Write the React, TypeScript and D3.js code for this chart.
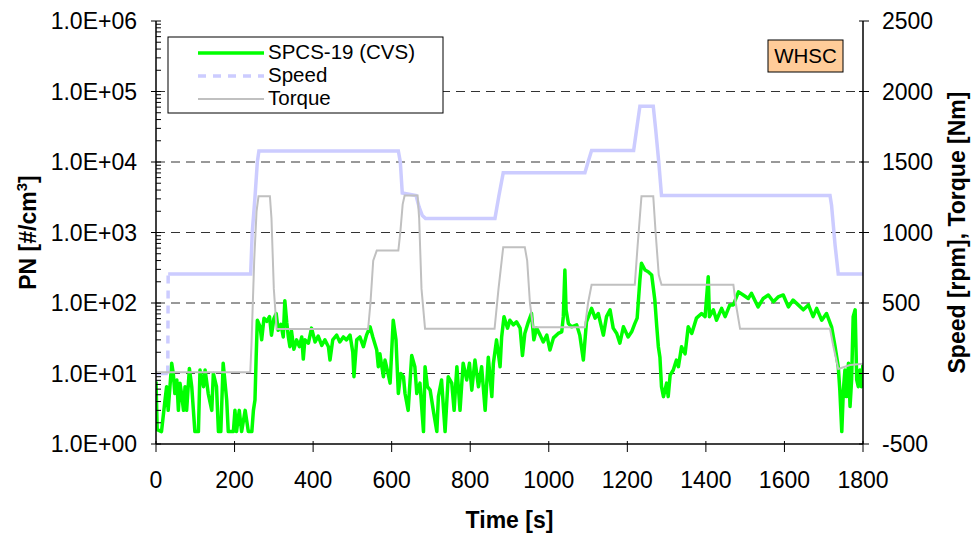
import React from 'react';
import * as d3 from 'd3';

// Particle number (primary, log axis)
const pnTime = [0,3,14,23,27,31,40,44,48,53,57,61,65,70,74,78,85,91,99,108,112,121,125,133,142,146,154,159,165,171,180,184,188,197,201,205,212,218,227,235,244,248,252,255,258,265,269,275,282,289,294,300,306,311,318,324,328,333,337,341,345,351,358,365,371,375,379,388,396,405,413,422,430,439,443,450,460,468,477,485,494,501,504,511,519,528,536,545,552,562,566,570,579,583,589,596,604,611,617,623,630,634,642,651,659,664,672,681,685,691,698,706,715,719,727,736,744,753,759,766,774,782,791,798,804,812,821,829,838,846,855,859,867,876,880,886,895,901,910,918,927,933,939,948,956,962,969,978,986,995,1003,1012,1024,1033,1037,1041,1044,1050,1058,1071,1079,1088,1096,1109,1118,1126,1139,1147,1156,1164,1173,1181,1190,1202,1211,1219,1225,1232,1236,1245,1253,1262,1270,1275,1279,1283,1287,1292,1300,1304,1309,1317,1325,1330,1338,1347,1355,1364,1376,1389,1398,1406,1409,1419,1427,1440,1449,1461,1470,1483,1495,1508,1516,1533,1546,1559,1572,1584,1597,1610,1622,1635,1648,1661,1673,1682,1695,1707,1720,1729,1737,1741,1746,1750,1754,1758,1763,1767,1771,1775,1780,1784,1788,1792,1796,1800];
const pnValue = [7.7,1.6,1.5,4.2,6.5,3.0,14,10,5.2,8.1,3.0,7.3,5.2,3.0,6.5,3.0,11.8,6.5,1.5,1.5,11.2,6.5,11.2,5.2,3.0,10,6.5,1.5,1.5,14,4.2,1.5,1.5,1.5,3.0,1.5,3.0,1.5,3.0,1.5,1.5,3.0,4.2,17,57,46,30,61,55,64,35,60,71,41,50,33,108,52,33,24,40,22,30,24,33,16,30,27,44,28,34,25,30,24,15.5,30,35,28,33,30,35,20,9.0,30,33,24,35,46,33,21.5,12.5,19,9.0,15.5,11.2,7.3,57,30,5.2,10,9,5.2,3.0,18,12.5,5.2,7.3,1.5,12.5,6.5,5.8,3.0,1.5,4.7,8.1,1.5,9,7.3,3.0,12.5,3.0,14,8.1,14,5.8,15.5,6.5,12.5,3.0,17,4.7,14,30,12.5,33,64,44,57,49,54,44,18,37,54,71,30,44,35,28,35,21.5,32,37,39,64,294,80,51,46,49,35,15.5,54,84,61,71,35,64,80,44,37,27,46,33,39,51,61,212,366,294,278,250,110,46,24,17,6.5,4.7,7.3,4.7,9.5,11.2,15.5,12.5,24,19,46,37,61,71,64,236,64,80,57,84,64,94,94,144,130,116,137,88,116,130,104,122,130,88,110,94,80,94,64,84,57,71,46,24,12.5,5.8,1.5,5.8,11.2,4.7,14,3.4,8.1,64,80,8.1,6.5,11.2,6.5,14];

// Engine speed (secondary axis)
const speedTime = [0,30,31,241,245,252,258,262,617,622,627,662,670,678,686,863,873,884,1092,1100,1109,1216,1224,1232,1266,1272,1280,1287,1716,1720,1729,1737,1800];
const speedValue = [0,0,705,705,1000,1250,1500,1578,1578,1500,1280,1262,1180,1120,1100,1100,1260,1423,1423,1500,1581,1581,1740,1896,1896,1735,1500,1262,1262,1191,908,705,705];

// Engine torque (secondary axis)
const torqueTime = [0,240,243,250,256,261,290,294,300,307,540,546,553,562,617,622,628,633,666,670,676,685,862,872,884,939,945,952,960,1092,1100,1109,1219,1226,1236,1266,1272,1280,1287,1470,1476,1487,1716,1724,1737,1767,1800];
const torqueValue = [8,8,200,800,1150,1257,1257,1100,600,315,315,500,800,872,872,1000,1200,1262,1262,1100,600,317,317,600,896,896,800,500,328,328,500,629,629,900,1257,1257,1000,700,629,629,500,317,317,200,33,60,69];

const timeTicks = [0,200,400,600,800,1000,1200,1400,1600,1800];
const pnTicks = [1,10,100,1000,10000,100000,1000000];
const pnTickLabels = ['1.0E+00','1.0E+01','1.0E+02','1.0E+03','1.0E+04','1.0E+05','1.0E+06'];
const rightTicks = [-500,0,500,1000,1500,2000,2500];

const legendItems = ['SPCS-19 (CVS)', 'Speed', 'Torque'];
const cycleName = 'WHSC';

const W = 973;
const H = 538;
const plot = { left: 156, right: 863, top: 21, bottom: 444 };
const FONT = '"Liberation Sans", Arial, Helvetica, sans-serif';
const GREEN = '#00FF00';
const LAVENDER = '#CCCCFF';
const GREY = '#C0C0C0';

type Pt = [number, number];

export default function App() {
  const x = d3.scaleLinear().domain([0, 1800]).range([plot.left, plot.right]);
  const yPN = d3.scaleLog().domain([1, 1e6]).range([plot.bottom, plot.top]);
  const yR = d3.scaleLinear().domain([-500, 2500]).range([plot.bottom, plot.top]);

  const pnPts: Pt[] = pnTime.map((t, i) => [t, pnValue[i]]);
  const speedPts: Pt[] = speedTime.map((t, i) => [t, speedValue[i]]);
  const torquePts: Pt[] = torqueTime.map((t, i) => [t, torqueValue[i]]);

  const pnLine = d3.line<Pt>().x(d => x(d[0])).y(d => yPN(d[1]));
  const rLine = d3.line<Pt>().x(d => x(d[0])).y(d => yR(d[1]));

  // Speed: sudden jumps (no samples in between) are drawn dashed
  const speedRuns: { pts: Pt[]; dashed: boolean }[] = [];
  let cur: Pt[] = [speedPts[0]];
  for (let i = 1; i < speedPts.length; i++) {
    const a = speedPts[i - 1];
    const b = speedPts[i];
    const steep = Math.abs(b[1] - a[1]) / (b[0] - a[0]) > 300;
    if (steep) {
      if (cur.length > 1) speedRuns.push({ pts: cur, dashed: false });
      speedRuns.push({ pts: [a, b], dashed: true });
      cur = [b];
    } else {
      cur.push(b);
    }
  }
  if (cur.length > 1) speedRuns.push({ pts: cur, dashed: false });

  const minorTicks: number[] = [];
  for (let e = 0; e < 6; e++) {
    for (let k = 2; k <= 9; k++) minorTicks.push(k * Math.pow(10, e));
  }

  const legX = 168, legY = 37, legW = 275, legH = 76;
  const rowY = [52, 75, 98];

  return (
    <svg width={W} height={H} style={{ position: 'absolute', left: 0, top: 0, background: '#fff' }}
      fontFamily={FONT}>
      <defs>
        <clipPath id="plotClip">
          <rect x={plot.left} y={plot.top - 5} width={plot.right - plot.left} height={plot.bottom - plot.top + 5} />
        </clipPath>
      </defs>
      <rect x={0} y={0} width={W} height={H} fill="#fff" />

      {/* dashed horizontal gridlines */}
      {pnTicks.slice(1, -1).map(v => (
        <line key={'g' + v} x1={plot.left} x2={plot.right} y1={yPN(v)} y2={yPN(v)}
          stroke="#333" strokeWidth={1} strokeDasharray="9,6" />
      ))}

      <g clipPath="url(#plotClip)">
        <path d={pnLine(pnPts) || ''} fill="none" stroke={GREEN} strokeWidth={3.5} strokeLinejoin="round" />
        {speedRuns.map((r, i) => (
          <path key={'s' + i} d={rLine(r.pts) || ''} fill="none" stroke={LAVENDER} strokeWidth={3.5}
            strokeDasharray={r.dashed ? '8,7' : undefined} />
        ))}
        <path d={rLine(torquePts) || ''} fill="none" stroke={GREY} strokeWidth={2} />
      </g>

      {/* left axis */}
      <line x1={plot.left} x2={plot.left} y1={plot.top} y2={plot.bottom} stroke="#000" strokeWidth={1.5} />
      {minorTicks.map(v => (
        <line key={'m' + v} x1={plot.left} x2={plot.left + 5} y1={yPN(v)} y2={yPN(v)} stroke="#000" strokeWidth={1} />
      ))}
      {pnTicks.map((v, i) => (
        <g key={'l' + v}>
          <line x1={plot.left - 5} x2={plot.left + 5} y1={yPN(v)} y2={yPN(v)} stroke="#000" strokeWidth={1} />
          <text x={137} y={yPN(v)} dy="0.35em" textAnchor="end" fontSize={23}>{pnTickLabels[i]}</text>
        </g>
      ))}

      {/* right axis */}
      <line x1={plot.right} x2={plot.right} y1={plot.top} y2={plot.bottom} stroke="#000" strokeWidth={1.5} />
      {rightTicks.map(v => (
        <g key={'r' + v}>
          <line x1={plot.right - 4} x2={plot.right + 6} y1={yR(v)} y2={yR(v)} stroke="#000" strokeWidth={1} />
          <text x={882} y={yR(v)} dy="0.35em" textAnchor="start" fontSize={23}>{v}</text>
        </g>
      ))}

      {/* bottom axis */}
      <line x1={plot.left} x2={plot.right} y1={plot.bottom} y2={plot.bottom} stroke="#000" strokeWidth={1.5} />
      {timeTicks.map(v => (
        <g key={'x' + v}>
          <line x1={x(v)} x2={x(v)} y1={plot.bottom - 3} y2={plot.bottom + 8} stroke="#000" strokeWidth={1} />
          <text x={x(v)} y={488} textAnchor="middle" fontSize={23}>{v}</text>
        </g>
      ))}

      {/* axis titles */}
      <text x={(plot.left + plot.right) / 2} y={528} textAnchor="middle" fontSize={23} fontWeight="bold">Time [s]</text>
      <text transform={`translate(36, ${(plot.top + plot.bottom) / 2}) rotate(-90)`} textAnchor="middle"
        fontSize={23} fontWeight="bold">
        PN [#/cm<tspan dy={-9} fontSize={15}>3</tspan><tspan dy={9}>]</tspan>
      </text>
      <text transform={`translate(965, ${(plot.top + plot.bottom) / 2}) rotate(-90)`} textAnchor="middle"
        fontSize={23} fontWeight="bold">Speed [rpm], Torque [Nm]</text>

      {/* legend */}
      <rect x={legX} y={legY} width={legW} height={legH} fill="#fff" stroke="#000" strokeWidth={1} />
      <line x1={198} x2={264} y1={rowY[0] + 1} y2={rowY[0] + 1} stroke={GREEN} strokeWidth={3.5} />
      <line x1={198} x2={264} y1={rowY[1] + 1} y2={rowY[1] + 1} stroke={LAVENDER} strokeWidth={3.5} strokeDasharray="8,7" />
      <line x1={198} x2={264} y1={rowY[2] + 1} y2={rowY[2] + 1} stroke={GREY} strokeWidth={2} />
      {legendItems.map((s, i) => (
        <text key={s} x={268} y={rowY[i]} dy="0.35em" fontSize={20.5}>{s}</text>
      ))}

      {/* cycle label */}
      <rect x={768} y={40} width={75} height={32} fill="#FFCC99" stroke="#000" strokeWidth={1} />
      <text x={805.5} y={56} dy="0.35em" textAnchor="middle" fontSize={20.5}>{cycleName}</text>
    </svg>
  );
}
